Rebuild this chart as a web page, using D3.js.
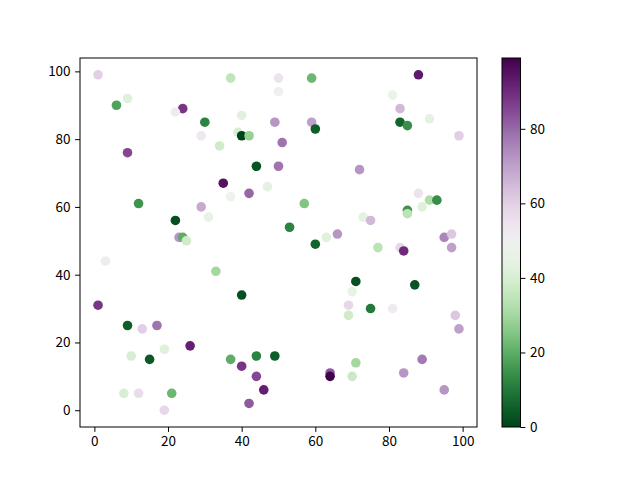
<!DOCTYPE html>
<html>
<head>
<meta charset="utf-8">
<script src="https://cdn.jsdelivr.net/npm/d3@7"></script>
<style>
  body { margin: 0; background: #fff; }
  svg text { font-family: "Noto Sans CJK SC", "DejaVu Sans", sans-serif; font-size: 13.5px; fill: #000; }
</style>
</head>
<body>
<svg width="640" height="480"></svg>
<script>
// 점 데이터
const xs = [1, 37, 50, 50, 9, 6, 24, 22, 30, 40, 49, 29, 39, 40, 42, 51, 34, 9, 44, 50,
  35, 47, 59, 88, 81, 83, 91, 59, 60, 83, 85, 99, 72, 42, 37, 12, 29, 31, 22, 23,
  24, 25, 3, 33, 40, 1, 57, 88, 91, 93, 89, 85, 85, 73, 75, 53, 63, 66, 60, 77,
  83, 84, 95, 97, 97, 71, 87, 70, 69, 75, 81, 9, 13, 17, 26, 19, 10, 15, 37, 40,
  44, 49, 44, 46, 42, 8, 12, 21, 19, 69, 98, 99, 71, 64, 64, 70, 84, 89, 95];
const ys = [99, 98, 98, 94, 92, 90, 89, 88, 85, 87, 85, 81, 82, 81, 81, 79, 78, 76, 72, 72,
  67, 66, 98, 99, 93, 89, 86, 85, 83, 85, 84, 81, 71, 64, 63, 61, 60, 57, 56, 51,
  51, 50, 44, 41, 34, 31, 61, 64, 62, 62, 60, 59, 58, 57, 56, 54, 51, 52, 49, 48,
  48, 47, 51, 52, 48, 38, 37, 35, 31, 30, 30, 25, 24, 25, 19, 18, 16, 15, 15, 13,
  16, 16, 10, 6, 2, 5, 5, 5, 0, 28, 28, 24, 14, 11, 10, 10, 11, 15, 6];
const cs = [60, 35, 55, 50, 42, 18, 88, 52, 12, 43, 72, 53, 40, 0, 28, 78, 38, 85, 3, 78,
  95, 44, 22, 93, 46, 65, 44, 70, 5, 6, 14, 60, 72, 80, 48, 15, 68, 45, 2, 72,
  20, 38, 52, 30, 2, 88, 25, 55, 32, 14, 42, 15, 34, 44, 65, 12, 42, 72, 6, 34,
  58, 90, 75, 62, 70, 2, 3, 45, 58, 10, 52, 5, 60, 78, 92, 42, 40, 4, 20, 88,
  12, 5, 85, 92, 82, 40, 57, 22, 58, 38, 62, 70, 30, 82, 99, 37, 72, 77, 72];
const xTicks = [0, 20, 40, 60, 80, 100];
const yTicks = [0, 20, 40, 60, 80, 100];
const cTicks = [0, 20, 40, 60, 80];

const svg = d3.select("svg");
const plotLeft = 80, plotRight = 477, plotTop = 58, plotBottom = 427;

// matplotlib 기본 여백 5%
const xExt = d3.extent(xs), yExt = d3.extent(ys);
const xPad = (xExt[1] - xExt[0]) * 0.05, yPad = (yExt[1] - yExt[0]) * 0.05;
const x = d3.scaleLinear().domain([xExt[0] - xPad, xExt[1] + xPad]).range([plotLeft, plotRight]);
const y = d3.scaleLinear().domain([yExt[0] - yPad, yExt[1] + yPad]).range([plotBottom, plotTop]);

// PRGn 반전 (0 = 초록, 최대 = 보라)
const cExt = d3.extent(cs);
const color = d3.scaleSequential((t) => d3.interpolatePRGn(1 - t)).domain(cExt);

const pts = xs.map((v, i) => ({ x: v, y: ys[i], c: cs[i] }));

svg.append("g")
  .selectAll("circle")
  .data(pts)
  .enter()
  .append("circle")
  .attr("cx", (d) => x(d.x))
  .attr("cy", (d) => y(d.y))
  .attr("r", 4.8)
  .attr("fill", (d) => color(d.c));

svg.append("rect")
  .attr("x", plotLeft).attr("y", plotTop)
  .attr("width", plotRight - plotLeft).attr("height", plotBottom - plotTop)
  .attr("fill", "none").attr("stroke", "#000").attr("stroke-width", 1);

function styleAxis(g) {
  g.select(".domain").remove();
  g.selectAll(".tick line").attr("stroke", "#000");
  g.selectAll(".tick text").attr("fill", "#000").style("font-size", "13.5px");
}

svg.append("g")
  .attr("transform", `translate(0,${plotBottom})`)
  .call(d3.axisBottom(x).tickValues(xTicks).tickSize(4.9).tickPadding(4.5))
  .call(styleAxis);

svg.append("g")
  .attr("transform", `translate(${plotLeft},0)`)
  .call(d3.axisLeft(y).tickValues(yTicks).tickSize(4.9).tickPadding(4.5))
  .call(styleAxis);

// 컬러바
const cbLeft = 502, cbWidth = 18.5;
const cy = d3.scaleLinear().domain(cExt).range([plotBottom, plotTop]);
const defs = svg.append("defs");
const grad = defs.append("linearGradient")
  .attr("id", "cbar").attr("x1", 0).attr("y1", 1).attr("x2", 0).attr("y2", 0);
d3.range(0, 1.0001, 0.05).forEach((t) => {
  grad.append("stop")
    .attr("offset", t)
    .attr("stop-color", color(cExt[0] + t * (cExt[1] - cExt[0])));
});
svg.append("rect")
  .attr("x", cbLeft).attr("y", plotTop)
  .attr("width", cbWidth).attr("height", plotBottom - plotTop)
  .attr("fill", "url(#cbar)")
  .attr("stroke", "#000").attr("stroke-width", 1);

svg.append("g")
  .attr("transform", `translate(${cbLeft + cbWidth},0)`)
  .call(d3.axisRight(cy).tickValues(cTicks).tickSize(4.9).tickPadding(4.5))
  .call(styleAxis);
</script>
</body>
</html>
